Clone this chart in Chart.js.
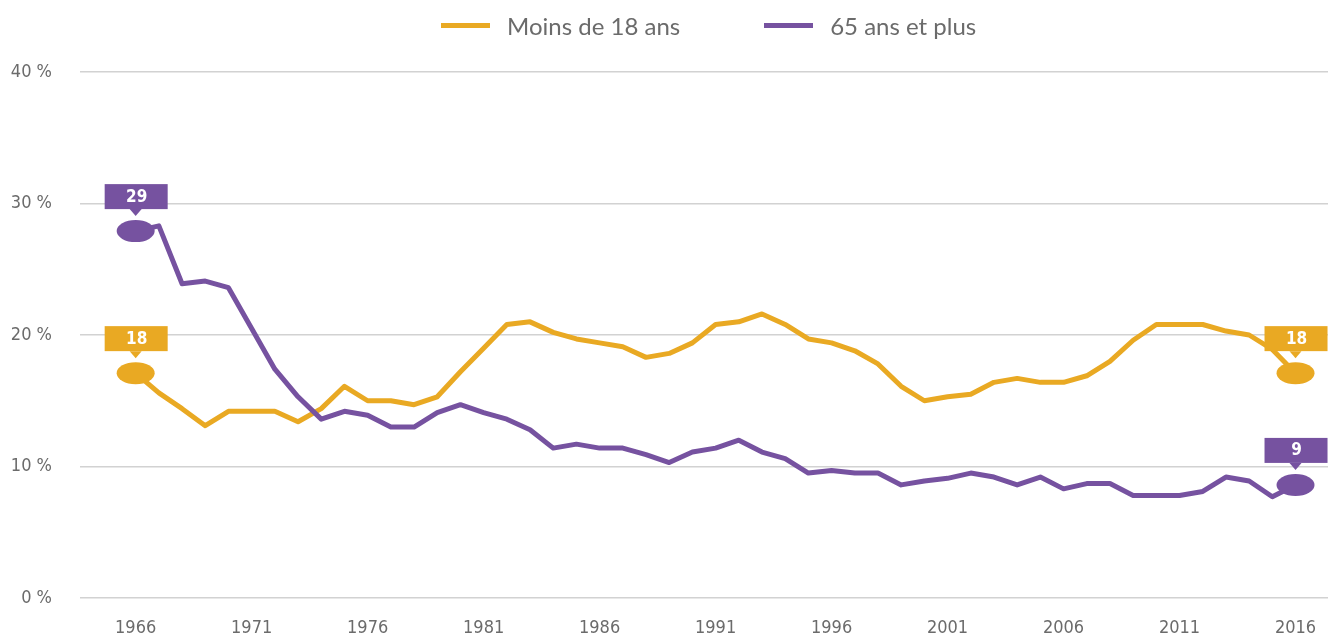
<!DOCTYPE html>
<html lang="fr">
<head>
<meta charset="utf-8">
<title>Taux de pauvreté selon l'âge</title>
<script src="https://cdn.jsdelivr.net/npm/chart.js@4"></script>
<style>
  html, body { margin: 0; padding: 0; background: #fff; overflow: hidden; }
  #wrap { position: relative; width: 1328px; height: 635px; overflow: hidden; }
  #chart { display: block; }
  #legend {
    position: absolute; top: 8px; left: 441px; height: 34px;
    display: flex; align-items: center;
    font-family: Lato, 'Open Sans', sans-serif; font-size: 24px; color: #6b6b6b;
  }
  .item { display: flex; align-items: center; margin-right: 84px; }
  .swatch { display: inline-block; width: 49px; height: 5px; margin-right: 17px; }
</style>
</head>
<body>
<div id="wrap">
  <div id="legend"></div>
  <canvas id="chart" width="1328" height="635"></canvas>
</div>
<script>
// years on the x axis
const years = [];
for (let y = 1966; y <= 2016; y++) years.push(y);

const tickYears = [1966, 1971, 1976, 1981, 1986, 1991, 1996, 2001, 2006, 2011, 2016];
const yTicks = [0, 10, 20, 30, 40];

// values (%)
const under18 = [
  17.1, 15.6, 14.4, 13.1, 14.2, 14.2, 14.2, 13.4, 14.4, 16.1,
  15.0, 15.0, 14.7, 15.3, 17.2, 19.0, 20.8, 21.0, 20.2, 19.7,
  19.4, 19.1, 18.3, 18.6, 19.4, 20.8, 21.0, 21.6, 20.8, 19.7,
  19.4, 18.8, 17.8, 16.1, 15.0, 15.3, 15.5, 16.4, 16.7, 16.4,
  16.4, 16.9, 18.0, 19.6, 20.8, 20.8, 20.8, 20.3, 20.0, 18.9,
  17.1
];
const over65 = [
  27.9, 28.3, 23.9, 24.1, 23.6, 20.5, 17.4, 15.3, 13.6, 14.2,
  13.9, 13.0, 13.0, 14.1, 14.7, 14.1, 13.6, 12.8, 11.4, 11.7,
  11.4, 11.4, 10.9, 10.3, 11.1, 11.4, 12.0, 11.1, 10.6, 9.5,
  9.7, 9.5, 9.5, 8.6, 8.9, 9.1, 9.5, 9.2, 8.6, 9.2,
  8.3, 8.7, 8.7, 7.8, 7.8, 7.8, 8.1, 9.2, 8.9, 7.7,
  8.6
];

// callout texts at first and last year
const under18Callouts = ['18', '18'];
const over65Callouts = ['29', '9'];

const yellow = '#e9a923';
const purple = '#7652a0';
const textGrey = '#6b6b6b';

// pick a narrow face if one is installed
function hasFont(name) {
  const c = document.createElement('canvas').getContext('2d');
  c.font = '40px monospace';
  const base = c.measureText('1966 abc %').width;
  c.font = "40px '" + name + "', monospace";
  return c.measureText('1966 abc %').width !== base;
}
const narrow = hasFont('Liberation Sans Narrow');
const tickFamily = narrow ? "'Liberation Sans Narrow', sans-serif" : "'DejaVu Sans Condensed', sans-serif";
const tickSize = narrow ? 21 : 18;
const flagFont = narrow ? "bold 20px 'Liberation Sans Narrow', sans-serif" : "bold 17px 'DejaVu Sans Condensed', sans-serif";

// ellipse + flag at both ends of each line
const calloutPlugin = {
  id: 'callouts',
  afterDatasetsDraw(chart) {
    const ctx = chart.ctx;
    chart.data.datasets.forEach((ds, i) => {
      const meta = chart.getDatasetMeta(i);
      const pts = [meta.data[0], meta.data[meta.data.length - 1]];
      pts.forEach((pt, k) => {
        const x = pt.x, y = pt.y;
        ctx.save();
        ctx.fillStyle = ds.borderColor;
        ctx.beginPath();
        ctx.ellipse(x, y, 19, 11, 0, 0, Math.PI * 2);
        ctx.fill();
        const bottom = y - 22;
        ctx.fillRect(x - 31, bottom - 25, 63, 25);
        ctx.beginPath();
        ctx.moveTo(x - 6, bottom);
        ctx.lineTo(x + 6, bottom);
        ctx.lineTo(x, bottom + 7);
        ctx.closePath();
        ctx.fill();
        ctx.fillStyle = '#fff';
        ctx.font = flagFont;
        ctx.textAlign = 'center';
        ctx.textBaseline = 'middle';
        ctx.fillText(ds.callouts[k], x + 1, bottom - 12);
        ctx.restore();
      });
    });
  }
};

const chart = new Chart(document.getElementById('chart'), {
  type: 'line',
  data: {
    labels: years,
    datasets: [
      {
        label: 'Moins de 18 ans',
        data: under18,
        callouts: under18Callouts,
        borderColor: yellow,
        backgroundColor: yellow,
        borderWidth: 5,
        order: 1
      },
      {
        label: '65 ans et plus',
        data: over65,
        callouts: over65Callouts,
        borderColor: purple,
        backgroundColor: purple,
        borderWidth: 5,
        order: 0
      }
    ]
  },
  options: {
    responsive: false,
    animation: false,
    layout: { padding: { top: 72, left: 0, right: 0, bottom: 0 } },
    elements: {
      point: { radius: 0 },
      line: { tension: 0, borderJoinStyle: 'round', borderCapStyle: 'round' }
    },
    scales: {
      x: {
        type: 'linear',
        min: 1963.6,
        max: 2017.4,
        grid: { display: false },
        border: { display: false },
        afterBuildTicks: (scale) => { scale.ticks = tickYears.map(v => ({ value: v })); },
        afterFit: (scale) => {
          scale.height = 37;
          scale.paddingLeft = 0;
          scale.paddingRight = 0;
        },
        ticks: {
          color: textGrey,
          padding: 12,
          maxRotation: 0,
          autoSkip: false,
          font: { family: tickFamily, size: tickSize },
          callback: (v) => String(v)
        }
      },
      y: {
        min: 0,
        max: 40,
        afterBuildTicks: (scale) => { scale.ticks = yTicks.map(v => ({ value: v })); },
        afterFit: (scale) => {
          scale.width = 80;
          scale.paddingTop = 0;
          scale.paddingBottom = 0;
        },
        grid: { color: '#d2d2d2', lineWidth: 1.5, drawTicks: false },
        border: { display: false },
        ticks: {
          color: textGrey,
          padding: 28,
          font: { family: tickFamily, size: tickSize },
          callback: (v) => v + '\u00a0%'
        }
      }
    },
    plugins: {
      legend: { display: false },
      tooltip: { enabled: false }
    }
  },
  plugins: [calloutPlugin]
});

// html legend built from the datasets
const legendEl = document.getElementById('legend');
chart.data.datasets.forEach(ds => {
  const item = document.createElement('div');
  item.className = 'item';
  const sw = document.createElement('span');
  sw.className = 'swatch';
  sw.style.background = ds.borderColor;
  const txt = document.createElement('span');
  txt.textContent = ds.label;
  item.appendChild(sw);
  item.appendChild(txt);
  legendEl.appendChild(item);
});
</script>
</body>
</html>
